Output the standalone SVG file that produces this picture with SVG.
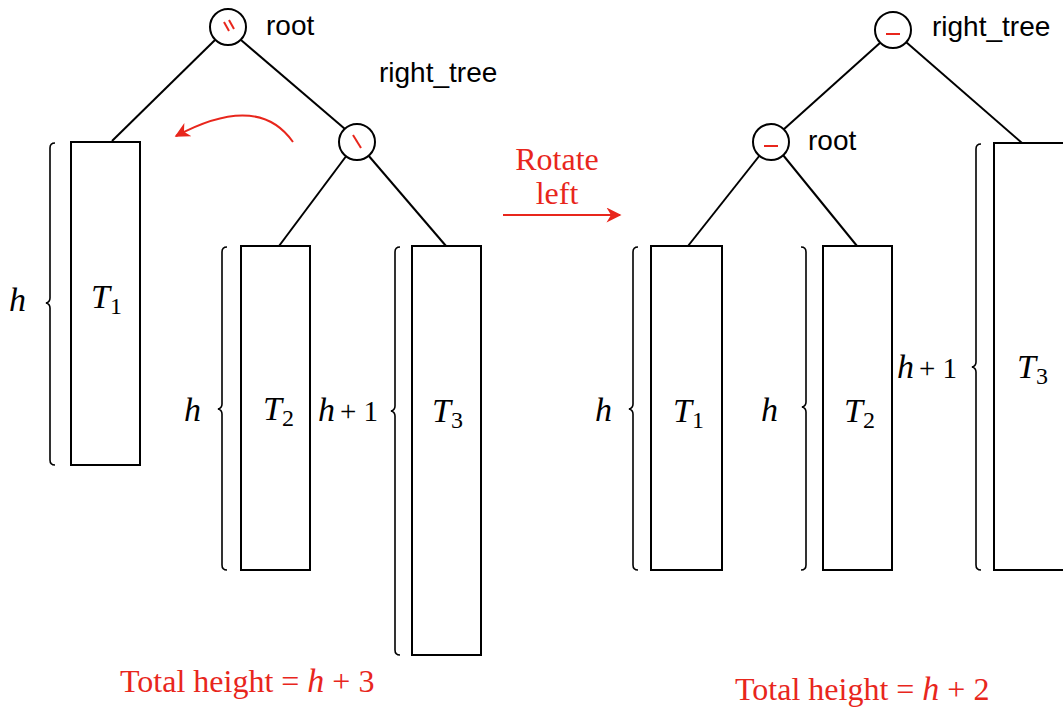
<svg xmlns="http://www.w3.org/2000/svg" width="1063" height="708" viewBox="0 0 1063 708">
<style>
.edge{stroke:#000;stroke-width:2;fill:none}
.box{stroke:#000;stroke-width:2;fill:#fff}
.circ{stroke:#000;stroke-width:2;fill:#fff}
.brace{stroke:#000;stroke-width:1.6;fill:none}
.lbl{font-family:"Liberation Sans",Arial,sans-serif;font-size:28px;fill:#000}
.math{font-family:"Liberation Serif","Times New Roman",serif;font-style:italic;font-size:34px;fill:#000}
.num{font-family:"Liberation Serif","Times New Roman",serif;font-size:29px;fill:#000}
.sub{font-family:"Liberation Serif","Times New Roman",serif;font-size:24px}
.red{font-family:"Liberation Serif","Times New Roman",serif;font-size:32px;fill:#e8261c}
.mark{stroke:#e8261c;stroke-width:2;fill:none}
</style>
<defs>
<marker id="ah2" viewBox="0 0 10 10" refX="9" refY="5" markerWidth="22" markerHeight="15" orient="auto" markerUnits="userSpaceOnUse">
<path d="M0,0 L10,5 L0,10 L3,5 z" fill="#e8261c"/>
</marker>
</defs>
<rect width="1063" height="708" fill="#fff"/>

<g id="connectors">
<line class="edge" x1="215" y1="40" x2="112" y2="141"/>
<line class="edge" x1="241" y1="40" x2="345" y2="129"/>
<line class="edge" x1="347" y1="155" x2="279" y2="246"/>
<line class="edge" x1="368" y1="155" x2="446" y2="246"/>
<line class="edge" x1="881" y1="42" x2="783" y2="130"/>
<line class="edge" x1="906" y1="42" x2="1022" y2="143"/>
<line class="edge" x1="760" y1="155" x2="688" y2="246"/>
<line class="edge" x1="783" y1="155" x2="857" y2="246"/>
<path d="M293,142 Q258,92 176,136" stroke="#e8261c" stroke-width="2" fill="none" marker-end="url(#ah2)"/>
<line x1="503" y1="215" x2="620" y2="215" stroke="#e8261c" stroke-width="2" marker-end="url(#ah2)"/>
</g>

<g id="left-root">
<circle class="circ" cx="228" cy="27" r="18"/>
<line class="mark" x1="224" y1="22" x2="229" y2="31"/>
<line class="mark" x1="229" y1="20" x2="234" y2="29"/>
<text class="lbl" x="266" y="35">root</text>
</g>
<g id="left-right-tree">
<circle class="circ" cx="357" cy="142" r="18"/>
<line class="mark" x1="353" y1="135" x2="361" y2="148"/>
<text class="lbl" x="379" y="82">right_tree</text>
</g>
<g id="left-T1">
<rect class="box" x="71" y="142" width="69" height="323"/>
<text class="math" x="91" y="308">T<tspan class="sub" font-style="normal" dy="6">1</tspan></text>
<path class="brace" d="M55,143 Q50,143 50,148 L50,298 Q50,302 46,303 Q50,304 50,308 L50,460 Q50,465 55,465"/>
<text class="math" x="9" y="311">h</text>
</g>
<g id="left-T2">
<rect class="box" x="241" y="246" width="69" height="324"/>
<text class="math" x="263" y="420">T<tspan class="sub" font-style="normal" dy="6">2</tspan></text>
<path class="brace" d="M227,247 Q222,247 222,252 L222,404 Q222,408 218,409 Q222,410 222,414 L222,565 Q222,570 227,570"/>
<text class="math" x="184" y="421">h</text>
</g>
<g id="left-T3">
<rect class="box" x="412" y="246" width="69" height="409"/>
<text class="math" x="432" y="422">T<tspan class="sub" font-style="normal" dy="6">3</tspan></text>
<path class="brace" d="M400,247 Q395,247 395,252 L395,406 Q395,410 391,411 Q395,412 395,416 L395,650 Q395,655 400,655"/>
<text class="math" x="318" y="421">h<tspan class="num" font-style="normal" dx="5">+ 1</tspan></text>
</g>

<g id="rotate-label">
<text class="red" x="557" y="170" text-anchor="middle" font-size="26">Rotate</text>
<text class="red" x="557" y="204" text-anchor="middle" font-size="26">left</text>
</g>
<g id="total-left">
<text class="red" x="120" y="692">Total height = <tspan font-style="italic" font-size="34">h</tspan> + 3</text>
</g>

<g id="right-right-tree">
<circle class="circ" cx="893" cy="30" r="18"/>
<line class="mark" x1="886" y1="34" x2="900" y2="34"/>
<text class="lbl" x="932" y="36">right_tree</text>
</g>
<g id="right-root">
<circle class="circ" cx="771" cy="142" r="18"/>
<line class="mark" x1="764" y1="146" x2="778" y2="146"/>
<text class="lbl" x="808" y="150">root</text>
</g>
<g id="right-T1">
<rect class="box" x="651" y="246" width="71" height="324"/>
<text class="math" x="673" y="422">T<tspan class="sub" font-style="normal" dy="6">1</tspan></text>
<path class="brace" d="M638,247 Q633,247 633,252 L633,404 Q633,408 629,409 Q633,410 633,414 L633,565 Q633,570 638,570"/>
<text class="math" x="595" y="421">h</text>
</g>
<g id="right-T2">
<rect class="box" x="823" y="246" width="69" height="324"/>
<text class="math" x="844" y="422">T<tspan class="sub" font-style="normal" dy="6">2</tspan></text>
<path class="brace" d="M801,247 Q806,247 806,252 L806,402 Q806,406 802,407 Q806,408 806,412 L806,565 Q806,570 801,570"/>
<text class="math" x="761" y="421">h</text>
</g>
<g id="right-T3">
<rect class="box" x="994" y="143" width="80" height="427"/>
<text class="math" x="1017" y="378">T<tspan class="sub" font-style="normal" dy="6">3</tspan></text>
<path class="brace" d="M981,144 Q976,144 976,149 L976,362 Q976,366 972,367 Q976,368 976,372 L976,565 Q976,570 981,570"/>
<text class="math" x="897" y="378">h<tspan class="num" font-style="normal" dx="5">+ 1</tspan></text>
</g>
<g id="total-right">
<text class="red" x="735" y="700">Total height = <tspan font-style="italic" font-size="34">h</tspan> + 2</text>
</g>
</svg>
